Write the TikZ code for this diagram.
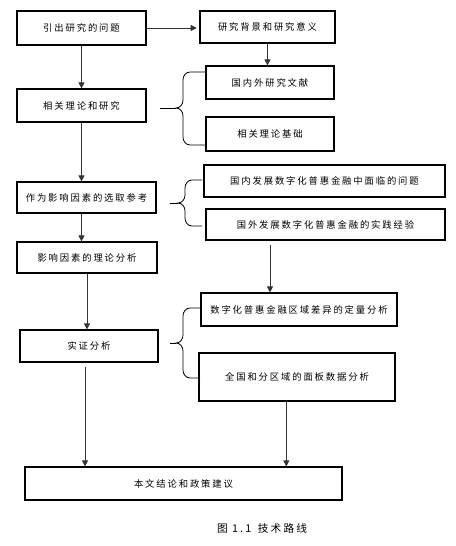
\documentclass[tikz,border=0pt]{standalone}
\usepackage{fontspec}
\newfontfamily\cjk[LetterSpace=20]{Noto Sans CJK SC}
\usetikzlibrary{arrows.meta,positioning}

\begin{document}
\begin{tikzpicture}
		[x=0.75pt,y=-0.75pt,
		box/.style={draw,shape=rectangle,line width=0.9pt,inner sep=0pt,font=\cjk\fontsize{7}{8}\selectfont},
		arr/.style={draw=black!80,line width=0.6pt,-{Triangle[length=4.5pt,width=4.5pt]}},
		curl/.style={line width=0.6pt}]
		\useasboundingbox (0,0) rectangle (456,546);
		\def\curly#1#2#3#4#5#6{
			\draw[curl] (#3,#4) -- (#2+7,#4) to[out=180,in=90] (#2,#4+8) -- (#2,#5-8)
			to[out=-90,in=0] (#2-7,#5) to[out=0,in=90] (#2,#5+8) -- (#2,#6-8)
			to[out=-90,in=180] (#2+7,#6) -- (#3,#6);
			\draw[curl] (#2-7,#5) -- (#1,#5);}
		
		\node[box,minimum width=96.75pt,minimum height=25.5pt] (1) at (81.5,28) {引出研究的问题};
		\node[box,minimum width=101.25pt,minimum height=24pt] (2) at (267.5,27) {研究背景和研究意义};
		\node[box,minimum width=96pt,minimum height=24.75pt] (3) at (270,82.5) {国内外研究文献};
		\node[box,minimum width=96pt,minimum height=25.5pt] (4) at (270,134) {相关理论基础};
		\node[box,minimum width=96.75pt,minimum height=24.75pt] (5) at (81.5,105.5) {相关理论和研究};
		\node[box,minimum width=104.25pt,minimum height=23.25pt] (6) at (86.5,197.5) {作为影响因素的选取参考};
		\node[box,minimum width=180.75pt,minimum height=24pt] (7) at (324.5,181) {国内发展数字化普惠金融中面临的问题};
		\node[box,minimum width=179.25pt,minimum height=23.25pt] (8) at (325.5,224.5) {国外发展数字化普惠金融的实践经验};
		\node[box,minimum width=105pt,minimum height=23.25pt] (9) at (87,257.5) {影响因素的理论分析};
		\node[box,minimum width=147pt,minimum height=24.75pt] (10) at (299,309.5) {数字化普惠金融区域差异的定量分析};
		\node[box,minimum width=103.5pt,minimum height=24pt] (11) at (89,346) {实证分析};
		\node[box,minimum width=147pt,minimum height=36pt] (12) at (297,377) {全国和分区域的面板数据分析};
		\node[box,minimum width=237.75pt,minimum height=24.75pt] (13) at (183.5,483.5) {本文结论和政策建议};
		\node[font=\cjk\fontsize{8}{9}\selectfont] (cap) at (262,528) {图 1.1\hspace{5pt}技术路线};
		
		\draw[arr,shorten >=2pt] (1.east) -- (1.east -| 2.west);
		\draw[arr] (2.south) -- (2.south |- 3.north);
		\draw[arr] (1) -- (5);
		\draw[arr] (5.south) -- (5.south |- 6.north);
		\draw[arr] (5.south |- 6.south) -- (5.south |- 9.north);
		\draw[arr] (9.south) -- (9.south |- 11.north);
		\draw[arr,shorten <=3pt] (8.south -| 3.south) -- (3.south |- 10.north);
		\draw[arr,shorten <=3pt] ([xshift=-3pt]11.south) -- ([xshift=-3pt]11.south |- 13.north);
		\draw[arr] ([xshift=-8pt]12.south) -- ([xshift=-8pt]12.south |- 13.north);
		
		\curly{160}{183}{205}{72}{108}{145}
		\curly{170}{185}{202}{180}{203}{226}
		\curly{170}{183}{200}{308}{343}{378}
		\end{tikzpicture}
\end{document}
